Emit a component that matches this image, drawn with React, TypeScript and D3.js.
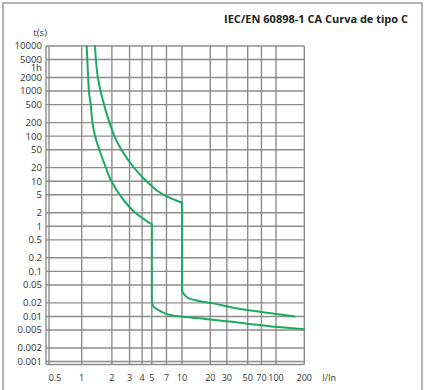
import * as d3 from 'd3';

// axis ticks
const xTicks = [0.5, 1, 2, 3, 4, 5, 7, 10, 20, 30, 50, 70, 100, 200];
const yTicks = [10000, 5000, 2000, 1000, 500, 200, 100, 50, 20, 10, 5, 2, 1, 0.5, 0.2, 0.1, 0.05, 0.02, 0.01, 0.005, 0.002, 0.001];
const yLabels = ['10000', '5000', '2000', '1000', '500', '200', '100', '50', '20', '10', '5', '2', '1', '0.5', '0.2', '0.1', '0.05', '0.02', '0.01', '0.005', '0.002', '0.001'];
const hourMark = 3600;

// tripping curve, lower limit (I/In, t in s); cornerMin = index of the sharp corner
const minI = [1.12, 1.16, 1.18, 1.23, 1.28, 1.36, 1.5, 1.74, 1.98, 2.4, 3.42, 5, 5, 5.1, 6.03, 7.6, 10.1, 20, 47, 107, 200];
const minT = [10000, 2000, 1000, 500, 200, 100, 50, 20, 10, 5, 2, 1.1, 0.0245, 0.018, 0.0133, 0.0108, 0.0098, 0.0086, 0.007, 0.0058, 0.0052];
const cornerMin = 11;

// tripping curve, upper limit
const maxI = [1.357, 1.45, 1.54, 1.67, 1.89, 2.12, 2.49, 3.32, 4.43, 6.54, 10, 10, 10.8, 12.2, 15.6, 20, 47, 107, 158];
const maxT = [10000, 2000, 1000, 500, 200, 100, 50, 20, 10, 5, 3.33, 0.038, 0.029, 0.0245, 0.0218, 0.02, 0.014, 0.0112, 0.01];
const cornerMax = 10;

const W = 424;
const H = 390;
const FONT = '"Open Sans", "Noto Sans", sans-serif';
const GRID = '#8c8c8c';
const GREEN = '#1aaa62';

// the printed paper is not a perfectly uniform log grid, so each decade gets its own width
const left = 49;
const decadeWidths = [32.7, 100.3, 94, 28.3];
const xDomain = [0.5, 1, 10, 100, 200];
const xRange = decadeWidths.reduce((acc, w) => [...acc, acc[acc.length - 1] + w], [left]);

export default function App() {
  const x = d3.scaleLog().domain(xDomain).range(xRange);
  const y = d3.scaleLog().domain([0.001, 10000]).range([361.5, 46]);

  const line = d3
    .line<[number, number]>()
    .x((d) => x(d[0]))
    .y((d) => y(d[1]))
    .curve(d3.curveMonotoneY);

  const minPts = minI.map((v, i) => [v, minT[i]] as [number, number]);
  const maxPts = maxI.map((v, i) => [v, maxT[i]] as [number, number]);

  // each curve is drawn in two pieces so the corner stays sharp
  const pieces = [
    minPts.slice(0, cornerMin + 1),
    minPts.slice(cornerMin),
    maxPts.slice(0, cornerMax + 1),
    maxPts.slice(cornerMax),
  ];

  const x0 = x(0.5) - 3;
  const x1 = x(200);
  const y0 = y(10000);
  const y1 = y(0.001) + 3;

  return (
    <div style={{ position: 'fixed', left: 0, top: 0 }}>
      <svg width={W} height={H} style={{ display: 'block', fontFamily: FONT }}>
        <rect x={0} y={0} width={W} height={H} fill="#fff" />
        <rect x={3} y={3} width={419} height={H + 10} fill="none" stroke="#9a9a9a" strokeWidth={1.5} />

        <text x={408} y={23} textAnchor="end" fontSize={11} fontWeight={700} fill="#222">
          IEC/EN 60898-1 CA Curva de tipo C
        </text>

        {/* grid */}
        <g stroke={GRID} strokeWidth={1.4}>
          {xTicks.map((t) => (
            <line key={'vx' + t} x1={x(t)} x2={x(t)} y1={y0} y2={y1} />
          ))}
          {yTicks.map((t) => (
            <line key={'hy' + t} x1={x0} x2={x1} y1={y(t)} y2={y(t)} />
          ))}
          <line x1={x0} x2={x0} y1={y0} y2={y1} />
          <line x1={x0} x2={x1} y1={y1} y2={y1} />
        </g>

        {/* y labels */}
        <g fontSize={9.6} fill="#333" textAnchor="end">
          <text x={x0 + 1} y={y0 - 10}>t(s)</text>
          {yTicks.map((t, i) => (
            <text key={'yl' + t} x={x0 - 4} y={y(t)} dy="0.35em">
              {yLabels[i]}
            </text>
          ))}
          <text x={x0 - 4} y={y(hourMark)} dy="0.55em">1h</text>
        </g>

        {/* x labels */}
        <g fontSize={9} fill="#333" textAnchor="middle">
          {xTicks.map((t) => (
            <text key={'xl' + t} x={t === 0.5 ? x(t) + 6 : x(t)} y={y1 + 16}>
              {t}
            </text>
          ))}
          <text x={x1 + 18} y={y1 + 16} textAnchor="start">I/In</text>
        </g>

        {/* curves */}
        <g fill="none" stroke={GREEN} strokeWidth={2} strokeLinejoin="round" strokeLinecap="round">
          {pieces.map((p, i) => (
            <path key={i} d={line(p) ?? ''} />
          ))}
        </g>
      </svg>
    </div>
  );
}
